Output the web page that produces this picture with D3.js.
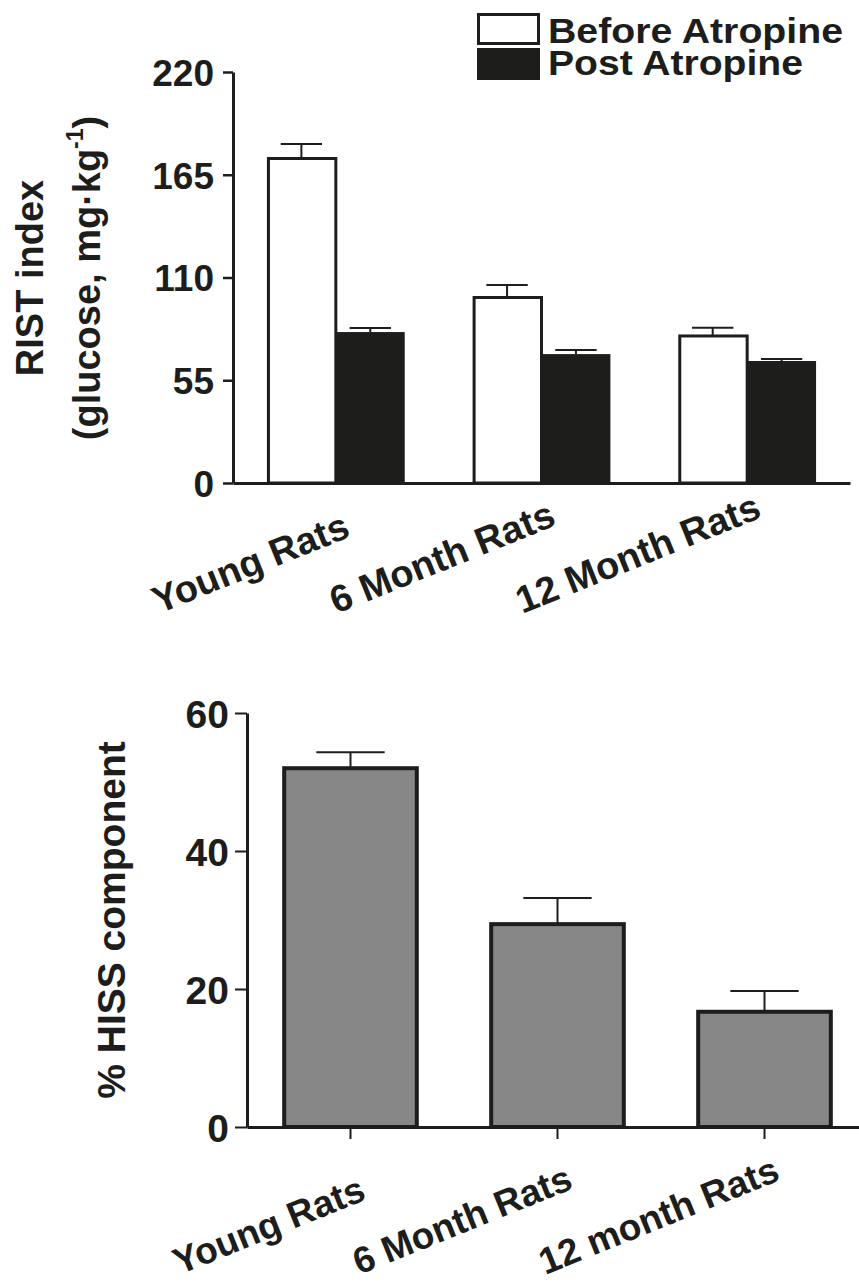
<!DOCTYPE html>
<html><head><meta charset="utf-8">
<script src="https://cdn.jsdelivr.net/npm/d3@7"></script>
<style>body{margin:0;background:#fff} text{font-family:"Liberation Sans",Arial,Helvetica,sans-serif;font-weight:bold;fill:#1d1d1b}</style>
</head><body>
<svg id="c" width="859" height="1286"></svg>
<script>
// ---- Top panel data ----
const categoriesTop = ["Young Rats", "6 Month Rats", "12 Month Rats"];
const seriesNames = ["Before Atropine", "Post Atropine"];
const beforeValues = [173.7, 99.3, 78.7];
const beforeErrors = [7.8, 6.7, 4.4];
const postValues = [80.8, 69.0, 65.3];
const postErrors = [2.2, 2.2, 1.1];
const topTicks = [0, 55, 110, 165, 220];

// ---- Bottom panel data ----
const categoriesBottom = ["Young Rats", "6 Month Rats", "12 month Rats"];
const hissValues = [52.0, 29.4, 16.7];
const hissErrors = [2.3, 3.8, 3.0];
const bottomTicks = [0, 20, 40, 60];

const INK = "#1d1d1b";
const ANGLE = 22;
const svg = d3.select("#c");

function placeRotated(sel, endDx, startDy) {
  const rad = ANGLE * Math.PI / 180;
  sel.each(function () {
    const t = d3.select(this);
    t.attr("x", 0).attr("y", 0).attr("dy", 0).attr("text-anchor", "start");
    const L = this.getComputedTextLength();
    t.attr("transform", `translate(${endDx - L * Math.cos(rad)},${startDy}) rotate(${-ANGLE})`);
  });
}

// ================= TOP PANEL =================
const yTop = d3.scaleLinear().domain([0, 220]).range([483, 72]);
const x0 = d3.scaleBand().domain(categoriesTop).range([233, 850]).paddingInner(0.33).paddingOuter(0.165);
const x1 = d3.scaleBand().domain(seriesNames).range([0, x0.bandwidth()]);

const topData = [];
categoriesTop.forEach((c, i) => {
  topData.push({c, s: seriesNames[0], v: beforeValues[i], e: beforeErrors[i]});
  topData.push({c, s: seriesNames[1], v: postValues[i], e: postErrors[i]});
});

const gTop = svg.append("g");
const eb = gTop.selectAll(".eb").data(topData).enter().append("g");
eb.append("line")
  .attr("x1", d => x0(d.c) + x1(d.s) + x1.bandwidth() / 2)
  .attr("x2", d => x0(d.c) + x1(d.s) + x1.bandwidth() / 2)
  .attr("y1", d => yTop(d.v)).attr("y2", d => yTop(d.v + d.e))
  .attr("stroke", INK).attr("stroke-width", 2);
eb.append("line")
  .attr("x1", d => x0(d.c) + x1(d.s) + x1.bandwidth() * 0.2)
  .attr("x2", d => x0(d.c) + x1(d.s) + x1.bandwidth() * 0.8)
  .attr("y1", d => yTop(d.v + d.e)).attr("y2", d => yTop(d.v + d.e))
  .attr("stroke", INK).attr("stroke-width", 2);
gTop.selectAll(".bar").data(topData).enter().append("rect")
  .attr("x", d => x0(d.c) + x1(d.s) + (d.s === seriesNames[0] ? 1.5 : 0))
  .attr("width", d => x1.bandwidth() - (d.s === seriesNames[0] ? 1.5 : 0))
  .attr("y", d => yTop(d.v))
  .attr("height", d => yTop(0) - yTop(d.v))
  .attr("fill", d => d.s === seriesNames[0] ? "#ffffff" : INK)
  .attr("stroke", INK)
  .attr("stroke-width", d => d.s === seriesNames[0] ? 3 : 0);

const yAxT = gTop.append("g").attr("transform", "translate(233,0)")
  .call(d3.axisLeft(yTop).tickValues(topTicks).tickSize(10).tickSizeOuter(0).tickPadding(9));
yAxT.select(".domain").attr("stroke", INK).attr("stroke-width", 3);
yAxT.selectAll(".tick line").attr("stroke", INK).attr("stroke-width", 2.5);
yAxT.selectAll(".tick text").attr("font-size", 37).attr("dy", "0.36em").style("fill", INK);

const xAxT = gTop.append("g").attr("transform", "translate(0,483)")
  .call(d3.axisBottom(x0).tickSize(0).tickSizeOuter(0));
xAxT.select(".domain").attr("stroke", INK).attr("stroke-width", 3);
xAxT.selectAll(".tick text").attr("font-size", 38).style("fill", INK)
  .call(placeRotated, 16, 131);

const tt = gTop.append("text").attr("transform", "translate(43,278) rotate(-90)")
  .attr("text-anchor", "middle").attr("font-size", 38).text("RIST index");
const t2 = gTop.append("text").attr("transform", "translate(100,278) rotate(-90)")
  .attr("text-anchor", "middle").attr("font-size", 38);
t2.append("tspan").text("(glucose, mg\u00B7kg");
t2.append("tspan").attr("font-size", 23).attr("dy", -17).text("-1");
t2.append("tspan").attr("dy", 17).text(")");

// legend
const leg = svg.append("g");
leg.append("rect").attr("x", 478.5).attr("y", 14.5).attr("width", 60).attr("height", 29)
  .attr("fill", "#fff").attr("stroke", INK).attr("stroke-width", 3);
leg.append("rect").attr("x", 477).attr("y", 48).attr("width", 63).attr("height", 32).attr("fill", INK);
leg.append("text").attr("x", 548).attr("y", 43).attr("font-size", 35)
  .attr("textLength", 295).attr("lengthAdjust", "spacingAndGlyphs").text(seriesNames[0]);
leg.append("text").attr("x", 548).attr("y", 75).attr("font-size", 35)
  .attr("textLength", 255).attr("lengthAdjust", "spacingAndGlyphs").text(seriesNames[1]);

// ================= BOTTOM PANEL =================
const yBot = d3.scaleLinear().domain([0, 60]).range([1127, 713]);
const xB = d3.scaleBand().domain(categoriesBottom).range([247, 868]).paddingInner(0.34).paddingOuter(0.17);
const botData = categoriesBottom.map((c, i) => ({c, v: hissValues[i], e: hissErrors[i]}));
const gBot = svg.append("g");

const eb2 = gBot.selectAll(".eb2").data(botData).enter().append("g");
eb2.append("line")
  .attr("x1", d => xB(d.c) + xB.bandwidth() / 2).attr("x2", d => xB(d.c) + xB.bandwidth() / 2)
  .attr("y1", d => yBot(d.v)).attr("y2", d => yBot(d.v + d.e))
  .attr("stroke", INK).attr("stroke-width", 2);
eb2.append("line")
  .attr("x1", d => xB(d.c) + xB.bandwidth() * 0.25).attr("x2", d => xB(d.c) + xB.bandwidth() * 0.75)
  .attr("y1", d => yBot(d.v + d.e)).attr("y2", d => yBot(d.v + d.e))
  .attr("stroke", INK).attr("stroke-width", 2);

gBot.selectAll(".bar2").data(botData).enter().append("rect")
  .attr("x", d => xB(d.c) + 2).attr("width", xB.bandwidth() - 4)
  .attr("y", d => yBot(d.v)).attr("height", d => yBot(0) - yBot(d.v))
  .attr("fill", "#878787").attr("stroke", INK).attr("stroke-width", 4);

const yAxB = gBot.append("g").attr("transform", "translate(247,0)")
  .call(d3.axisLeft(yBot).tickValues(bottomTicks).tickSize(12).tickSizeOuter(0).tickPadding(6));
yAxB.select(".domain").attr("stroke", INK).attr("stroke-width", 3);
yAxB.selectAll(".tick line").attr("stroke", INK).attr("stroke-width", 2);
yAxB.selectAll(".tick text").attr("font-size", 39).attr("dy", "0.36em").style("fill", INK);

const xAxB = gBot.append("g").attr("transform", "translate(0,1127)")
  .call(d3.axisBottom(xB).tickSize(12).tickSizeOuter(0));
xAxB.select(".domain").attr("stroke", INK).attr("stroke-width", 3);
xAxB.selectAll(".tick line").attr("stroke", INK).attr("stroke-width", 2);
xAxB.selectAll(".tick text").attr("font-size", 37).style("fill", INK)
  .call(placeRotated, 17, 148);

gBot.append("text").attr("transform", "translate(125,920) rotate(-90)")
  .attr("text-anchor", "middle").attr("font-size", 39).text("% HISS component");
</script>
</body></html>
